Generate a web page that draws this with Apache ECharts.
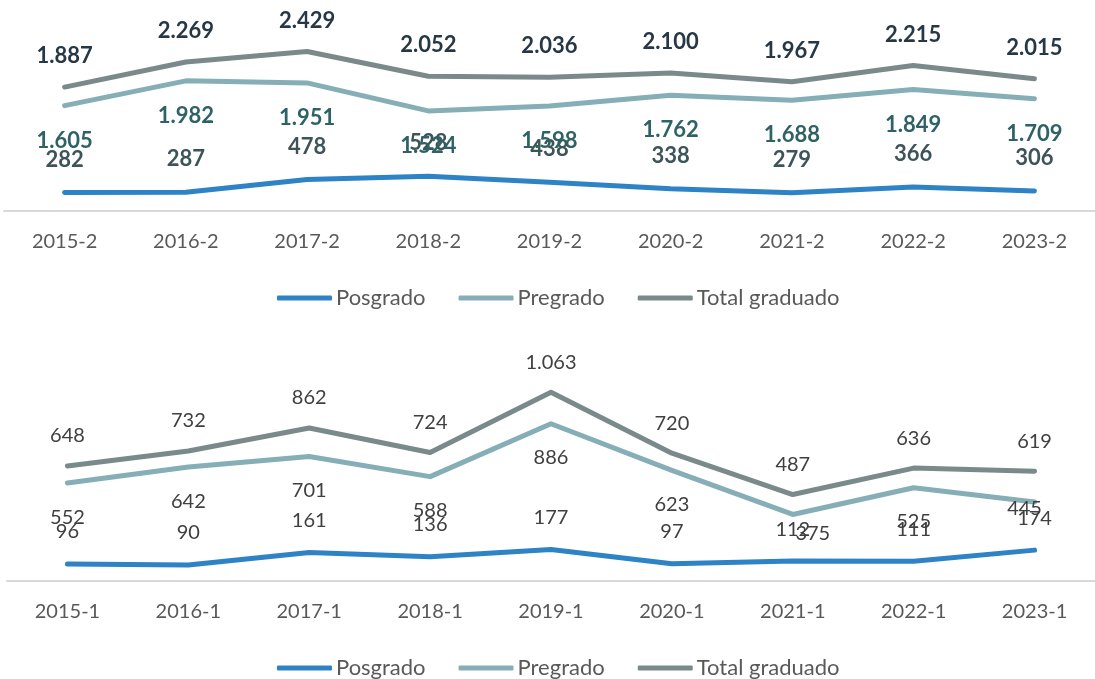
<!DOCTYPE html>
<html>
<head>
<meta charset="utf-8">
<script src="https://cdn.jsdelivr.net/npm/echarts@6/dist/echarts.min.js"></script>
<style>
  html, body { margin: 0; padding: 0; background: #fff; }
  #main { width: 1095px; height: 679px; }
</style>
</head>
<body>
<div id="main"></div>
<script>
// segundo semestre
var periodos2 = ['2015-2', '2016-2', '2017-2', '2018-2', '2019-2', '2020-2', '2021-2', '2022-2', '2023-2'];
var posgrado2 = [282, 287, 478, 528, 438, 338, 279, 366, 306];
var pregrado2 = [1605, 1982, 1951, 1524, 1598, 1762, 1688, 1849, 1709];
var total2 = [1887, 2269, 2429, 2052, 2036, 2100, 1967, 2215, 2015];

// primer semestre
var periodos1 = ['2015-1', '2016-1', '2017-1', '2018-1', '2019-1', '2020-1', '2021-1', '2022-1', '2023-1'];
var posgrado1 = [96, 90, 161, 136, 177, 97, 112, 111, 174];
var pregrado1 = [552, 642, 701, 588, 886, 623, 375, 525, 445];
var total1 = [648, 732, 862, 724, 1063, 720, 487, 636, 619];

var nombres = ['Posgrado', 'Pregrado', 'Total graduado'];

// etiquetas movidas a mano en el original (indice -> desplazamiento)
var movidasPre1 = { 6: [20, -15], 8: [-10, -28] };

var colPos = '#2E83C6';
var colPre = '#85AEB7';
var colTot = '#7A8A8A';
var fuente = 'Lato, "Open Sans", sans-serif';

// miles con punto (1.887)
function miles(p) {
  return String(p.value).replace(/\B(?=(\d{3})+(?!\d))/g, '.');
}

function serie(nombre, datos, color, eje, pos, dist, lblColor, negrita, size, movidas) {
  return {
    name: nombre,
    type: 'line',
    xAxisIndex: eje,
    yAxisIndex: eje,
    data: datos,
    symbol: 'circle',
    symbolSize: 0.1,
    showSymbol: true,
    lineStyle: { color: color, width: 5, cap: 'round', join: 'round' },
    itemStyle: { color: color },
    label: {
      show: true,
      position: pos,
      distance: dist,
      formatter: miles,
      color: lblColor,
      fontFamily: fuente,
      fontWeight: negrita ? 'bold' : 'normal',
      fontSize: size
    },
    labelLayout: function(p) {
      var m = movidas && movidas[p.dataIndex];
      if (m) return { hideOverlap: false, dx: m[0], dy: m[1] };
      return { hideOverlap: false };
    },
    emphasis: { disabled: true },
    animation: false
  };
}

function ejeX(cats, idx) {
  return {
    type: 'category',
    gridIndex: idx,
    data: cats,
    boundaryGap: true,
    axisLine: { lineStyle: { color: '#D9D9D9', width: 2 } },
    axisTick: { show: false },
    axisLabel: { color: '#595959', fontSize: 20, fontFamily: fuente, margin: 21 }
  };
}

function ejeY(idx, max) {
  return {
    type: 'value',
    gridIndex: idx,
    min: 0,
    max: max,
    show: false,
    splitLine: { show: false }
  };
}

function leyenda(top) {
  return {
    top: top,
    left: 272,
    data: nombres,
    icon: 'roundRect',
    itemWidth: 55,
    itemHeight: 5,
    itemGap: 33,
    textStyle: { color: '#595959', fontSize: 22, fontFamily: fuente, padding: [0, 0, 0, -1] },
    selectedMode: false
  };
}

var myChart = echarts.init(document.getElementById('main'));

var option = {
  backgroundColor: '#fff',
  animation: false,
  grid: [
    { left: 4, width: 1107, top: 14, height: 197 },
    { left: 7, width: 1099, top: 368, height: 213 }
  ],
  xAxis: [ejeX(periodos2, 0), ejeX(periodos1, 1)],
  yAxis: [ejeY(0, 3000), ejeY(1, 1200)],
  legend: [leyenda(282), leyenda(652)],
  series: [
    serie(nombres[0], posgrado2, colPos, 0, 'top', 22, '#3D5459', true, 22),
    serie(nombres[1], pregrado2, colPre, 0, 'bottom', 24, '#2E6266', true, 22),
    serie(nombres[2], total2, colTot, 0, 'top', 20, '#263746', true, 22),
    serie(nombres[0], posgrado1, colPos, 1, 'top', 22, '#404040', false, 20),
    serie(nombres[1], pregrado1, colPre, 1, 'bottom', 24, '#404040', false, 20, movidasPre1),
    serie(nombres[2], total1, colTot, 1, 'top', 20, '#404040', false, 20)
  ]
};

myChart.setOption(option);
</script>
</body>
</html>
